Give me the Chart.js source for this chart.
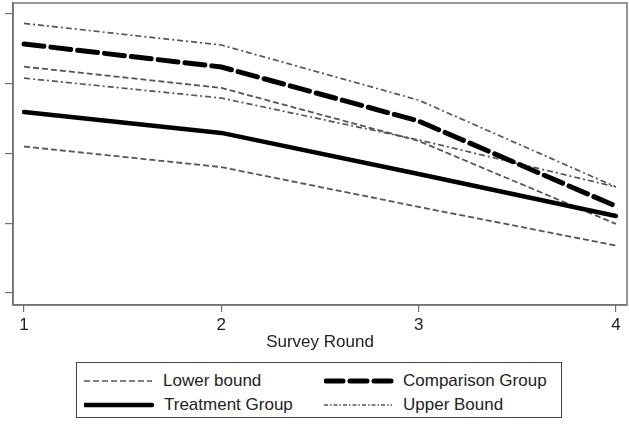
<!DOCTYPE html>
<html>
<head>
<meta charset="utf-8">
<script src="https://cdn.jsdelivr.net/npm/chart.js@4/dist/chart.umd.min.js"></script>
<style>
  body { margin: 0; background: #fff; font-family: "Liberation Sans", Arial, sans-serif; }
  #wrap { position: relative; width: 629px; height: 438px; }
  #chartBox { position: absolute; left: 0; top: 0; width: 629px; height: 355px; }
  #legend {
    position: absolute; left: 76px; top: 362px; width: 486px; height: 56px;
    border: 1px solid #444; box-sizing: border-box; font-size: 17px; color: #222;
  }
  .item { position: absolute; height: 22px; line-height: 22px; }
  .item svg { position: absolute; left: 0; top: 0; }
  .item span { position: absolute; white-space: nowrap; }
</style>
</head>
<body>
<div id="wrap">
  <div id="chartBox"><canvas id="chart"></canvas></div>
  <div id="legend">
    <div class="item" style="left:7px; top:7px;">
      <svg width="70" height="22"><line x1="0" y1="11" x2="68" y2="11" stroke="#555" stroke-width="1.6" stroke-dasharray="6,3"/></svg>
      <span style="left:79px;">Lower bound</span>
    </div>
    <div class="item" style="left:247px; top:7px;">
      <svg width="72" height="22"><line x1="2" y1="11" x2="68" y2="11" stroke="#000" stroke-width="5" stroke-linecap="round" stroke-dasharray="17,7"/></svg>
      <span style="left:79px;">Comparison Group</span>
    </div>
    <div class="item" style="left:7px; top:31px;">
      <svg width="72" height="22"><line x1="1" y1="11" x2="68" y2="11" stroke="#000" stroke-width="4.5" stroke-linecap="round"/></svg>
      <span style="left:80px;">Treatment Group</span>
    </div>
    <div class="item" style="left:247px; top:31px;">
      <svg width="70" height="22"><line x1="0" y1="11" x2="68" y2="11" stroke="#555" stroke-width="1.3" stroke-dasharray="4,2,1.5,2"/></svg>
      <span style="left:79px;">Upper Bound</span>
    </div>
  </div>
</div>
<script>
// survey rounds on the x axis
const rounds = [1, 2, 3, 4];
const xTicks = [1, 2, 3, 4];
const yTicks = [0, 0.2, 0.4, 0.6, 0.8];

// series
const treatment = [0.519, 0.459, 0.341, 0.221];
const comparison = [0.714, 0.648, 0.493, 0.249];
const treatLower = [0.420, 0.361, 0.247, 0.136];
const treatUpper = [0.616, 0.559, 0.439, 0.304];
const compLower = [0.649, 0.588, 0.436, 0.198];
const compUpper = [0.773, 0.711, 0.553, 0.304];

function pts(values) {
    return rounds.map((r, i) => ({ x: r, y: values[i] }));
}

const frameColor = '#737373';
const boundColor = '#555';

// рамка вокруг области графика
const framePlugin = {
    id: 'frame',
    afterDraw(chart) {
        const a = chart.chartArea;
        const ctx = chart.ctx;
        ctx.save();
        ctx.strokeStyle = frameColor;
        ctx.lineWidth = 1.5;
        ctx.strokeRect(a.left, a.top, a.right - a.left, a.bottom - a.top);
        ctx.restore();
    }
};

const bound = (values, dash, width) => ({
    data: pts(values),
    borderColor: boundColor,
    borderWidth: width,
    borderDash: dash,
    pointRadius: 0,
    tension: 0,
    fill: false
});

new Chart(document.getElementById('chart').getContext('2d'), {
    type: 'line',
    data: {
        datasets: [
            {
                label: 'Treatment Group',
                data: pts(treatment),
                borderColor: '#000',
                borderWidth: 4.5,
                borderCapStyle: 'round',
                pointRadius: 0,
                tension: 0
            },
            {
                label: 'Comparison Group',
                data: pts(comparison),
                borderColor: '#000',
                borderWidth: 5,
                borderDash: [20, 7],
                borderCapStyle: 'round',
                pointRadius: 0,
                tension: 0
            },
            Object.assign({ label: 'Lower bound' }, bound(treatLower, [6, 3], 1.8)),
            Object.assign({ label: 'Lower bound' }, bound(compLower, [6, 3], 1.8)),
            Object.assign({ label: 'Upper Bound' }, bound(treatUpper, [6, 3, 2, 3], 1.7)),
            Object.assign({ label: 'Upper Bound' }, bound(compUpper, [6, 3, 2, 3], 1.7))
        ]
    },
    options: {
        responsive: true,
        maintainAspectRatio: false,
        animation: false,
        layout: { padding: { top: 3, right: 2, left: 0, bottom: 0 } },
        plugins: {
            legend: { display: false },
            tooltip: { enabled: false }
        },
        scales: {
            x: {
                type: 'linear',
                min: 0.944,
                max: 4.056,
                afterBuildTicks: s => { s.ticks = xTicks.map(v => ({ value: v })); },
                afterFit: s => { s.height = 50; },
                grid: { drawOnChartArea: false, drawTicks: true, tickLength: 7, color: frameColor, lineWidth: 1.2 },
                border: { display: true, color: frameColor, width: 1.5 },
                ticks: {
                    color: '#222',
                    font: { family: '"Liberation Sans", Arial, sans-serif', size: 17 },
                    padding: 3,
                    maxRotation: 0
                },
                title: {
                    display: true,
                    text: 'Survey Round',
                    color: '#222',
                    font: { family: '"Liberation Sans", Arial, sans-serif', size: 17 },
                    padding: { top: 0, bottom: 2 }
                }
            },
            y: {
                type: 'linear',
                min: -0.0344,
                max: 0.8315,
                afterBuildTicks: s => { s.ticks = yTicks.map(v => ({ value: v })); },
                afterFit: s => { s.width = 13; },
                grid: { drawOnChartArea: false, drawTicks: true, tickLength: 8, color: frameColor, lineWidth: 1.2 },
                border: { display: true, color: frameColor, width: 1.5 },
                ticks: { display: false }
            }
        }
    },
    plugins: [framePlugin]
});
</script>
</body>
</html>
